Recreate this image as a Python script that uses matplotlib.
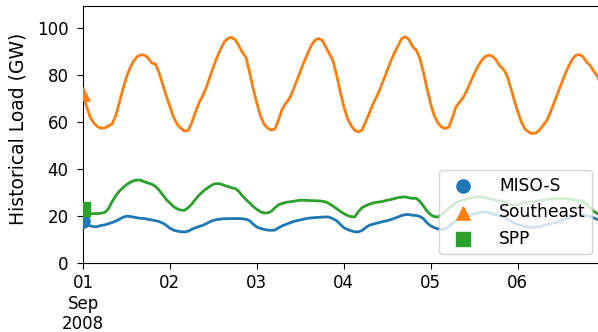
import matplotlib
matplotlib.use("Agg")
import matplotlib.pyplot as plt
import pandas as pd

# hourly load (GW), 2008-09-01 00:00 .. 2008-09-06 23:00
miso_s = [
    18, 16.5, 15.8, 15.4, 15.5, 16, 16.2, 16.7, 17.2, 17.8, 18.6, 19.4,
    19.9, 19.8, 19.5, 19.2, 19, 18.9, 18.6, 18.3, 18, 17.6, 17, 16,
    14.8, 14, 13.6, 13.3, 13.2, 13.5, 14.3, 15, 15.5, 16, 16.7, 17.5,
    18.1, 18.5, 18.7, 18.8, 18.9, 18.9, 18.9, 18.9, 18.8, 18.6, 18, 16.5,
    15.3, 14.7, 14.3, 14, 13.9, 14, 15, 15.8, 16.4, 17, 17.6, 18,
    18.3, 18.7, 19, 19.2, 19.3, 19.4, 19.5, 19.6, 19.5, 18.8, 18, 16.5,
    15, 14.3, 13.7, 13.3, 13.2, 13.8, 15, 16, 16.5, 16.9, 17.3, 17.7,
    18, 18.5, 19, 19.6, 20.2, 20.6, 20.6, 20.3, 20.2, 19.8, 18.8, 17,
    15.8, 15, 14.5, 14.3, 14.5, 15.5, 16.8, 18, 19, 19.8, 20.3, 20.7,
    21, 21.3, 21.6, 21.7, 21.5, 21, 20.5, 20, 19.6, 18.8, 17.8, 17,
    16.4, 16, 15.6, 15.3, 15.2, 15.2, 15.4, 15.8, 16.3, 16.7, 17, 17.4,
    18, 18.7, 19.3, 19.8, 20.2, 20.3, 20.3, 20.2, 19.8, 19.2, 18.5, 18,
]
southeast = [
    72, 66.5, 62, 59.5, 58, 57.3, 57.5, 58.3, 59, 62.5, 68, 74,
    79, 83, 86, 87.8, 88.6, 88.4, 87.2, 85, 84.6, 81, 76, 71,
    66.5, 62, 59, 57.3, 56.2, 56.3, 59.5, 64, 68, 71, 74.5, 79,
    83.5, 87.5, 91, 94, 95.5, 96, 95, 92.5, 89.5, 87.5, 81, 74,
    68, 62.5, 59, 57.3, 56.5, 57, 61, 65.5, 68, 70, 73.5, 77.5,
    81.5, 85.5, 89, 92.5, 94.7, 95.5, 94.8, 92, 89, 86, 80, 73,
    66.5, 61.5, 58.5, 56.5, 55.7, 56.5, 60, 63.5, 67.5, 70.5, 74, 78,
    82, 86, 89.5, 92.5, 95.5, 96.2, 95, 92, 90.5, 87, 81, 74,
    67.5, 62.5, 59.5, 57.8, 57.2, 57.8, 62, 66.5, 68.5, 70.5, 73.5, 77,
    80.5, 83.5, 86, 87.8, 88.4, 88, 86.5, 84, 82.5, 80, 75, 69.5,
    64.5, 60, 57, 55.7, 55, 55.3, 56.5, 58.5, 60.5, 64, 68, 72,
    76, 80, 83.5, 86.5, 88.3, 88.7, 87.8, 85.5, 84, 81.5, 79.5, 76,
]
spp = [
    23, 21.3, 21, 21, 21, 21.2, 21.5, 23, 26, 28.5, 30.5, 32,
    33.3, 34.3, 35, 35.3, 35.2, 34.5, 34, 33.5, 32.6, 31, 29, 27,
    25.5, 24, 23, 22.5, 22.4, 23.5, 25, 27, 28.8, 30.3, 31.5, 32.6,
    33.5, 33.8, 33.6, 33, 32.5, 32, 31.7, 30.5, 28.5, 27, 25.5, 24,
    22.8, 21.8, 21.3, 21.3, 22, 23.5, 24.8, 25.3, 25.8, 26, 26.2, 26.5,
    26.7, 26.7, 26.6, 26.5, 26.5, 26.4, 26.3, 26, 25.2, 24.2, 23.1, 22,
    21, 20.2, 19.7, 19.6, 21.8, 23.5, 24.3, 25, 25.5, 25.8, 26, 26.3,
    26.7, 27, 27.4, 27.8, 28, 28.1, 27.7, 27.5, 27.5, 26.2, 24.2, 22,
    20.5, 19.7, 19.6, 20.5, 22, 23.3, 24.5, 25.7, 26.3, 26.8, 27.3, 27.7,
    28, 28.1, 28.1, 27.8, 27.5, 27, 26.7, 26.5, 26.2, 25.5, 24.8, 24.6,
    24.8, 25.3, 25.7, 26, 26, 26.2, 26.5, 26.8, 27, 27.2, 27.3, 27.4,
    27.4, 27.4, 27.2, 27, 26.8, 26.5, 26.3, 25, 23.5, 22, 21, 20.5,
]
regions = ["MISO-S", "Southeast", "SPP"]
markers = ["o", "^", "s"]
tick_labels = ["01\nSep\n2008", "02", "03", "04", "05", "06"]

times = pd.date_range("2008-09-01 00:00", periods=len(miso_s), freq="h")
days = pd.date_range("2008-09-01", periods=len(tick_labels), freq="D")

fig = plt.figure(figsize=(5.98, 3.32), dpi=100)
ax = fig.add_axes([83 / 598, 69 / 332, 518 / 598, 257 / 332])

for i, (name, vals) in enumerate(zip(regions, [miso_s, southeast, spp])):
    col = "C%d" % i
    ax.plot(times, vals, color=col, lw=2)
    ax.scatter(times[:1], vals[:1], color=col, marker=markers[i], s=90,
               label=name, zorder=3)

ax.set_xlim(times[0], times[-1])
ax.set_ylim(0, 109.3)
ax.set_xticks(days)
ax.set_xticklabels(tick_labels)
ax.set_yticks([0, 20, 40, 60, 80, 100])
ax.tick_params(labelsize=12, length=4.3)
ax.tick_params(axis="y", pad=6)
ax.set_ylabel("Historical Load (GW)", fontsize=13.5)
ax.yaxis.set_label_coords(-0.108, 0.52)
ax.legend(loc="lower right", fontsize=12.3, handletextpad=1.1)

fig.savefig("out.png", dpi=100)
